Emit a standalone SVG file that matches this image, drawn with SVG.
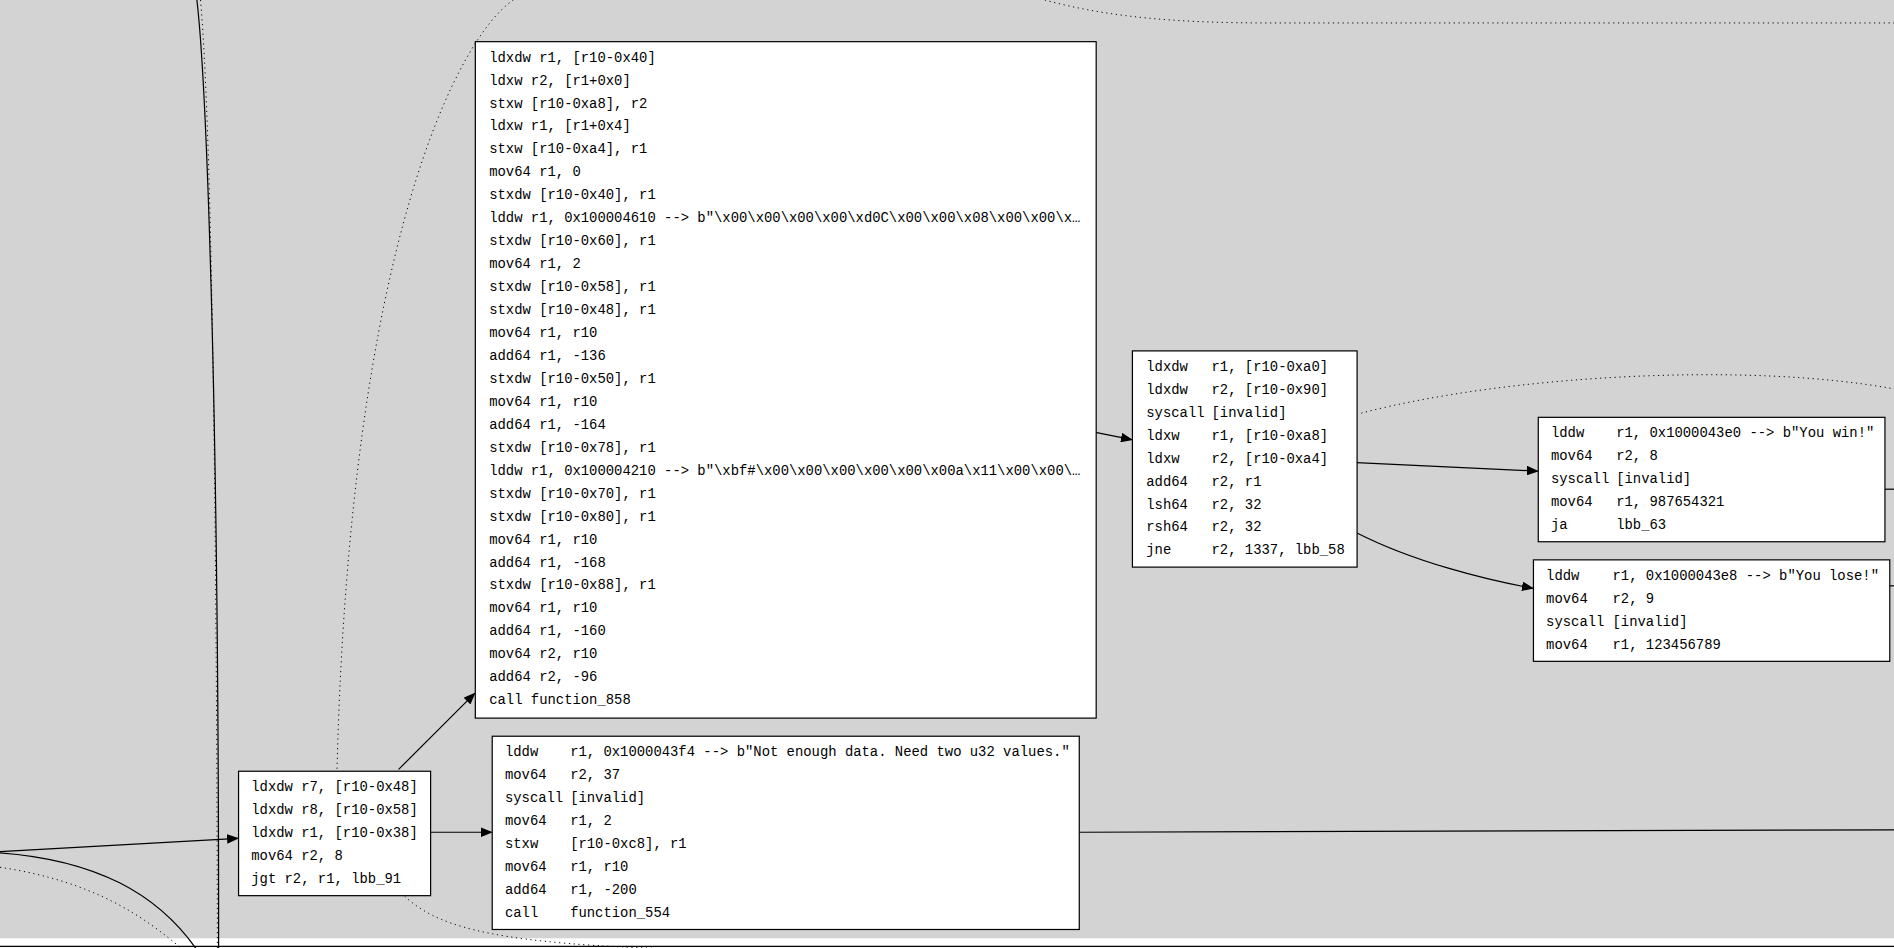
<svg xmlns="http://www.w3.org/2000/svg" width="1894" height="948" viewBox="0 0 1894 948">
<defs>
<marker id="ah" markerWidth="10" markerHeight="8" refX="9" refY="4" orient="auto" markerUnits="userSpaceOnUse"><path d="M0,0 L10,4 L0,8 z" fill="#000"/></marker>
<style>
.n rect{fill:#fff;stroke:#000;stroke-width:1}
.n text{font-family:"Liberation Mono",monospace;font-size:11.5px;fill:#000}
.e path{fill:none;stroke:#000;stroke-width:1}
.e .d{stroke-dasharray:1 3;stroke-width:0.8}
.e .a{marker-end:url(#ah)}
</style>
</defs>
<g transform="scale(1.20791)">
<rect x="0" y="0" width="1568" height="777" fill="#d3d3d3"/>
<rect x="0" y="777" width="1568" height="8" fill="#fff"/>
<line x1="0" y1="783.5" x2="1568" y2="783.5" stroke="#000" stroke-width="1"/>
<g id="edges" class="e">
<path d="M163,0 C170,60 181,300 181,785"/>
<path class="d" d="M166,0 C173,80 179,300 180,785"/>
<path class="d" d="M425,0 C380,30 290,200 279,637"/>
<path class="d" d="M865,0 C920,15 980,19 1050,19 L1568,19"/>
<path class="d" d="M1127,342 C1250,310 1450,300 1568,322"/>
<path class="d" d="M335,742 C360,765 400,780 540,785"/>
<path class="d" d="M0,718 C80,730 120,760 150,785"/>
<path d="M0,706 C80,712 130,740 162,785"/>
<path class="a" d="M330,637 L393,574"/>
<path class="a" d="M907,358 L937,364"/>
<path class="a" d="M1123,383 L1273,390"/>
<path class="a" d="M1123,441 C1170,465 1230,480 1269,487"/>
<path class="a" d="M356,689 L407,689"/>
<path class="a" d="M0,705 L197,694"/>
<path d="M893,689 L1568,687"/>
<path d="M1560,405 L1568,405"/>
<path d="M1564,485 L1568,485"/>
</g>
<g id="n1" class="n">
<rect x="393.5" y="34.5" width="514" height="560"/>
<text x="405" y="51">ldxdw r1, [r10-0x40]</text>
<text x="405" y="70">ldxw  r2, [r1+0x0]</text>
<text x="405" y="89">stxw  [r10-0xa8], r2</text>
<text x="405" y="108">ldxw  r1, [r1+0x4]</text>
<text x="405" y="127">stxw  [r10-0xa4], r1</text>
<text x="405" y="146">mov64 r1, 0</text>
<text x="405" y="165">stxdw [r10-0x40], r1</text>
<text x="405" y="184">lddw  r1, 0x100004610 --&gt; b"\x00\x00\x00\x00\xd0C\x00\x00\x08\x00\x00\x…</text>
<text x="405" y="203">stxdw [r10-0x60], r1</text>
<text x="405" y="222">mov64 r1, 2</text>
<text x="405" y="241">stxdw [r10-0x58], r1</text>
<text x="405" y="260">stxdw [r10-0x48], r1</text>
<text x="405" y="279">mov64 r1, r10</text>
<text x="405" y="298">add64 r1, -136</text>
<text x="405" y="317">stxdw [r10-0x50], r1</text>
<text x="405" y="336">mov64 r1, r10</text>
<text x="405" y="355">add64 r1, -164</text>
<text x="405" y="374">stxdw [r10-0x78], r1</text>
<text x="405" y="393">lddw  r1, 0x100004210 --&gt; b"\xbf#\x00\x00\x00\x00\x00\x00a\x11\x00\x00\…</text>
<text x="405" y="412">stxdw [r10-0x70], r1</text>
<text x="405" y="431">stxdw [r10-0x80], r1</text>
<text x="405" y="450">mov64 r1, r10</text>
<text x="405" y="469">add64 r1, -168</text>
<text x="405" y="488">stxdw [r10-0x88], r1</text>
<text x="405" y="507">mov64 r1, r10</text>
<text x="405" y="526">add64 r1, -160</text>
<text x="405" y="545">mov64 r2, r10</text>
<text x="405" y="564">add64 r2, -96</text>
<text x="405" y="583">call  function_858</text>
</g>
<g id="n2" class="n">
<rect x="937.5" y="290.5" width="186" height="179"/>
<text x="949" y="307">ldxdw</text><text x="1003" y="307">r1, [r10-0xa0]</text>
<text x="949" y="326">ldxdw</text><text x="1003" y="326">r2, [r10-0x90]</text>
<text x="949" y="345">syscall</text><text x="1003" y="345">[invalid]</text>
<text x="949" y="364">ldxw</text><text x="1003" y="364">r1, [r10-0xa8]</text>
<text x="949" y="383">ldxw</text><text x="1003" y="383">r2, [r10-0xa4]</text>
<text x="949" y="402">add64</text><text x="1003" y="402">r2, r1</text>
<text x="949" y="421">lsh64</text><text x="1003" y="421">r2, 32</text>
<text x="949" y="440">rsh64</text><text x="1003" y="440">r2, 32</text>
<text x="949" y="459">jne</text><text x="1003" y="459">r2, 1337, lbb_58</text>
</g>
<g id="n3" class="n">
<rect x="1273.5" y="345.5" width="287" height="103"/>
<text x="1284" y="362">lddw</text><text x="1338" y="362">r1, 0x1000043e0 --&gt; b"You win!"</text>
<text x="1284" y="381">mov64</text><text x="1338" y="381">r2, 8</text>
<text x="1284" y="400">syscall</text><text x="1338" y="400">[invalid]</text>
<text x="1284" y="419">mov64</text><text x="1338" y="419">r1, 987654321</text>
<text x="1284" y="438">ja</text><text x="1338" y="438">lbb_63</text>
</g>
<g id="n4" class="n">
<rect x="1269.5" y="463.5" width="295" height="84"/>
<text x="1280" y="480">lddw</text><text x="1335" y="480">r1, 0x1000043e8 --&gt; b"You lose!"</text>
<text x="1280" y="499">mov64</text><text x="1335" y="499">r2, 9</text>
<text x="1280" y="518">syscall</text><text x="1335" y="518">[invalid]</text>
<text x="1280" y="537">mov64</text><text x="1335" y="537">r1, 123456789</text>
</g>
<g id="n5" class="n">
<rect x="197.5" y="638.5" width="159" height="103"/>
<text x="208" y="655">ldxdw r7, [r10-0x48]</text>
<text x="208" y="674">ldxdw r8, [r10-0x58]</text>
<text x="208" y="693">ldxdw r1, [r10-0x38]</text>
<text x="208" y="712">mov64 r2, 8</text>
<text x="208" y="731">jgt   r2, r1, lbb_91</text>
</g>
<g id="n6" class="n">
<rect x="407.5" y="609.5" width="486" height="160"/>
<text x="418" y="626">lddw</text><text x="472" y="626">r1, 0x1000043f4 --&gt; b"Not enough data. Need two u32 values."</text>
<text x="418" y="645">mov64</text><text x="472" y="645">r2, 37</text>
<text x="418" y="664">syscall</text><text x="472" y="664">[invalid]</text>
<text x="418" y="683">mov64</text><text x="472" y="683">r1, 2</text>
<text x="418" y="702">stxw</text><text x="472" y="702">[r10-0xc8], r1</text>
<text x="418" y="721">mov64</text><text x="472" y="721">r1, r10</text>
<text x="418" y="740">add64</text><text x="472" y="740">r1, -200</text>
<text x="418" y="759">call</text><text x="472" y="759">function_554</text>
</g>
</g>
</svg>
